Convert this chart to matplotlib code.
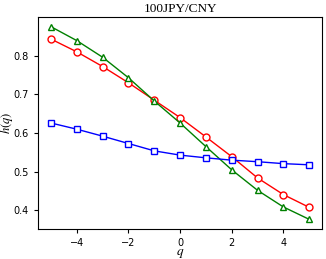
import numpy as np
import matplotlib.pyplot as plt

plt.rcParams['mathtext.fontset'] = 'stix'

# ==============================
# DATA
# ==============================
q = [-5, -4, -3, -2, -1, 0, 1, 2, 3, 4, 5]
h_red = [0.843, 0.810, 0.772, 0.730, 0.685, 0.640, 0.590, 0.539, 0.484, 0.441, 0.408]
h_green = [0.875, 0.839, 0.796, 0.743, 0.683, 0.626, 0.565, 0.505, 0.452, 0.409, 0.377]
h_blue = [0.626, 0.610, 0.592, 0.573, 0.554, 0.543, 0.536, 0.530, 0.526, 0.521, 0.518]

# ==============================
# PLOT
# ==============================
fig = plt.figure(figsize=(3.26, 2.59), dpi=100)
ax = fig.add_axes([0.117, 0.116, 0.871, 0.818])

ax.plot(q, h_red, color='red', marker='o', markerfacecolor='white',
        markersize=5, linewidth=1)
ax.plot(q, h_green, color='green', marker='^', markerfacecolor='white',
        markersize=5, linewidth=1)
ax.plot(q, h_blue, color='blue', marker='s', markerfacecolor='white',
        markersize=5, linewidth=1)

ax.set_xticks([-4, -2, 0, 2, 4])
ax.set_yticks([0.4, 0.5, 0.6, 0.7, 0.8])
ax.tick_params(labelsize=7, length=3, width=0.8)

ax.set_title('100JPY/CNY', fontfamily='Liberation Serif', fontsize=9.5, pad=4)
ax.set_xlabel('$q$', fontsize=9.5)
ax.set_ylabel('$h(q)$', fontsize=9)
ax.xaxis.set_label_coords(0.5, -0.085)
ax.yaxis.set_label_coords(-0.081, 0.5)

fig.savefig('out.png', dpi=100)
